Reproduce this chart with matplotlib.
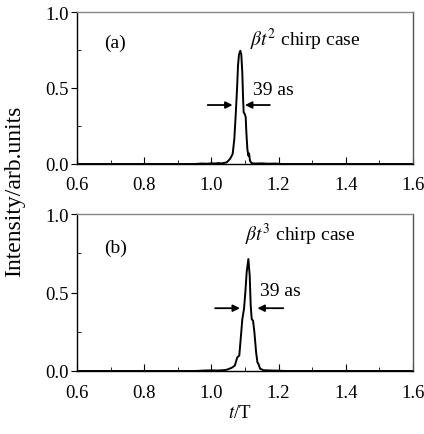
import matplotlib
matplotlib.use("Agg")
import matplotlib.pyplot as plt
from matplotlib.ticker import MultipleLocator

plt.rcParams['font.family'] = ['Liberation Serif', 'DejaVu Serif']
plt.rcParams['mathtext.fontset'] = 'stix'

# Panel (a): beta t^2 chirp
t_a = [0.60, 0.95, 0.97, 0.99, 1.00, 1.01, 1.02, 1.03, 1.04, 1.0455, 1.0554, 1.0633,
       1.0682, 1.0722, 1.0762, 1.0792, 1.0821, 1.0861, 1.089, 1.092, 1.094, 1.096,
       1.099, 1.102, 1.104, 1.107, 1.110, 1.112, 1.115, 1.12, 1.13, 1.15, 1.17,
       1.19, 1.21, 1.60]
I_a = [0, 0, 0.003, 0.002, 0.005, 0.003, 0.006, 0.004, 0.008, 0.011, 0.033, 0.066,
       0.164, 0.318, 0.49, 0.647, 0.72, 0.745, 0.72, 0.60, 0.45, 0.34,
       0.33, 0.31, 0.21, 0.10, 0.055, 0.07, 0.02, 0.005, 0.003, 0.004, 0.002,
       0.003, 0, 0]

# Panel (b): beta t^3 chirp
t_b = [0.60, 0.95, 0.98, 1.00, 1.02, 1.04, 1.0455, 1.060, 1.0696, 1.077, 1.083,
       1.088, 1.092, 1.097, 1.101, 1.105, 1.110, 1.114, 1.117, 1.120, 1.124,
       1.128, 1.133, 1.137, 1.140, 1.145, 1.155, 1.165, 1.18, 1.20, 1.22, 1.60]
I_b = [0, 0, 0.003, 0.004, 0.003, 0.006, 0.008, 0.02, 0.034, 0.087, 0.098,
       0.225, 0.33, 0.395, 0.50, 0.63, 0.713, 0.607, 0.416, 0.33, 0.32,
       0.246, 0.12, 0.055, 0.045, 0.015, 0.005, 0.004, 0.003, 0.002, 0, 0]

x_ticks = [0.6, 0.8, 1.0, 1.2, 1.4, 1.6]
x_labels = ['0.6', '0.8', '1.0', '1.2', '1.4', '1.6']
y_ticks = [0, 0.5, 1.0]
y_labels = ['0.0', '0.5', '1.0']

fig = plt.figure(figsize=(4.24, 4.35), dpi=100)
W, H = 424, 435
ax_a = fig.add_axes([77 / W, 1 - 165 / H, 336 / W, 152 / H])
ax_b = fig.add_axes([77 / W, 1 - 372 / H, 336 / W, 157 / H])

fs_tick = 13.5
fs = 14

def style(ax):
    ax.set_xlim(0.6, 1.6)
    ax.set_ylim(0, 1.0)
    ax.xaxis.set_minor_locator(MultipleLocator(0.1))
    ax.yaxis.set_minor_locator(MultipleLocator(0.25))
    ax.tick_params(axis='x', which='major', direction='in', length=5, labelsize=fs_tick, pad=9)
    ax.tick_params(axis='x', which='minor', direction='in', length=3)
    ax.tick_params(axis='y', which='major', direction='out', length=4, labelsize=fs_tick, pad=2)
    ax.tick_params(axis='y', which='minor', direction='in', length=3)
    ax.set_xticks(x_ticks)
    ax.set_xticklabels(x_labels)
    ax.set_yticks(y_ticks)
    ax.set_yticklabels(y_labels)
    ax.spines['top'].set_color('#888888')
    ax.spines['right'].set_color('#555555')
    for s in ax.spines.values():
        s.set_linewidth(1.0)

for ax in (ax_a, ax_b):
    style(ax)

ax_a.plot(t_a, I_a, color='black', lw=1.4)
ax_b.plot(t_b, I_b, color='black', lw=1.4)

arrow = dict(arrowstyle='-|>', color='black', lw=1.3, mutation_scale=10,
             shrinkA=0, shrinkB=0)

# Panel (a) annotations
ax_a.text(0.68, 0.80, '(a)', fontsize=fs, ha='left', va='center')
ax_a.text(1.115, 0.82, r'$\beta t^{2}$ chirp case', fontsize=fs, ha='left', va='center')
ax_a.text(1.123, 0.49, '39 as', fontsize=fs, ha='left', va='center')
ax_a.annotate('', xy=(1.063, 0.388), xytext=(0.989, 0.388), arrowprops=arrow)
ax_a.annotate('', xy=(1.100, 0.388), xytext=(1.174, 0.388), arrowprops=arrow)

# Panel (b) annotations
ax_b.text(0.68, 0.79, '(b)', fontsize=fs, ha='left', va='center')
ax_b.text(1.10, 0.873, r'$\beta t^{3}$ chirp case', fontsize=fs, ha='left', va='center')
ax_b.text(1.145, 0.51, '39 as', fontsize=fs, ha='left', va='center')
ax_b.annotate('', xy=(1.085, 0.40), xytext=(1.011, 0.40), arrowprops=arrow)
ax_b.annotate('', xy=(1.137, 0.40), xytext=(1.214, 0.40), arrowprops=arrow)

fig.text(15 / W, 1 - 191 / H, 'Intensity/arb.units', rotation=90, fontsize=17,
         ha='center', va='center')
fig.text(240 / W, 1 - 414 / H, r'$t$/T', fontsize=fs_tick, ha='center', va='center')

fig.savefig('out.png', dpi=100)
